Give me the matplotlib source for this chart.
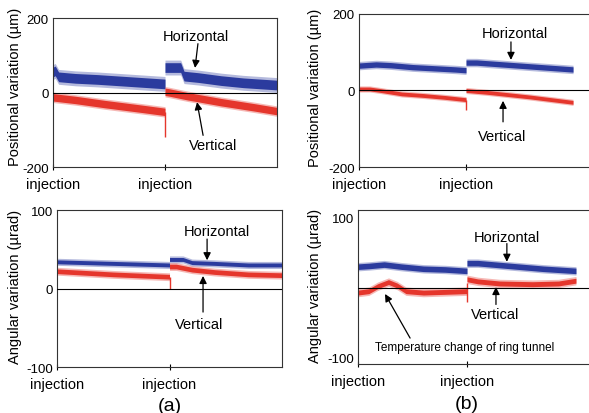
import matplotlib.pyplot as plt
import numpy as np

plt.rcParams['font.family'] = ['Liberation Sans', 'DejaVu Sans']

BLUE = '#2b3b9e'
RED = '#e5362c'
INJ = 50  # second injection

# (a) positional variation [um]; each trace split at the injection
a_pos_h_t1 = [0, 1, 2.5, 10, 20, 30, 40, 50]
a_pos_h_v1 = [55, 58, 42, 38, 35, 31, 27, 23]
a_pos_h_t2 = [50, 57, 58.5, 65, 75, 85, 100]
a_pos_h_v2 = [67, 67, 44, 40, 32, 26, 20]
a_pos_v_t1 = [0, 10, 23, 40, 50]
a_pos_v_v1 = [-13, -20, -31, -44, -52]
a_pos_v_t2 = [50, 52, 60, 75, 90, 100]
a_pos_v_v2 = [2, 0, -10, -26, -40, -50]
a_pos_spike = (-52, -120)

# (b) positional variation [um]
b_pos_h_t1 = [0, 8, 15, 25, 35, 45, 50]
b_pos_h_v1 = [65, 68, 66, 61, 58, 55, 53]
b_pos_h_t2 = [50, 55, 70, 85, 100]
b_pos_h_v2 = [73, 73, 67, 61, 55]
b_pos_v_t1 = [0, 5, 10, 20, 30, 40, 50]
b_pos_v_v1 = [4, 4, 0, -9, -13, -18, -24]
b_pos_v_t2 = [50, 60, 70, 80, 90, 100]
b_pos_v_v2 = [0, -5, -11, -17, -24, -31]
b_pos_spike = (-24, -52)

# (a) angular variation [urad]
a_ang_h_t1 = [0, 25, 50]
a_ang_h_v1 = [34, 32, 30]
a_ang_h_t2 = [50, 56, 60, 70, 85, 100]
a_ang_h_v2 = [37, 37, 33, 32, 30, 30]
a_ang_v_t1 = [0, 25, 50]
a_ang_v_v1 = [22, 18, 15]
a_ang_v_t2 = [50, 53, 60, 70, 85, 100]
a_ang_v_v2 = [28, 28, 24, 21, 18, 17]
a_ang_spike = (15, 0)

# (b) angular variation [urad]
b_ang_h_t1 = [0, 5, 12, 20, 30, 40, 50]
b_ang_h_v1 = [30, 31, 33, 30, 27, 26, 24]
b_ang_h_t2 = [50, 55, 70, 85, 100]
b_ang_h_v2 = [35, 35, 31, 27, 24]
b_ang_v_t1 = [0, 5, 9, 14, 18, 22, 30, 40, 50]
b_ang_v_v1 = [-7, -5, 2, 8, 3, -5, -7, -6, -5]
b_ang_v_t2 = [50, 55, 65, 80, 92, 100]
b_ang_v_v2 = [12, 9, 6, 5, 6, 10]
b_ang_spike = (7, -21)

# noise amplitude of each trace: (core, fuzz) half-widths
a_pos_noise = {'h': (13, 20), 'v': (10, 14)}
b_pos_noise = {'h': (7, 11), 'v': (5, 8)}
a_ang_noise = {'h': (2.5, 4.5), 'v': (3, 5)}
b_ang_noise = {'h': (4, 6), 'v': (3.5, 6)}


def band(ax, t, v, noise, color):
    t = np.asarray(t, float)
    v = np.asarray(v, float)
    core, fuzz = noise
    ax.fill_between(t, v - fuzz, v + fuzz, color=color, alpha=0.35, lw=0)
    ax.fill_between(t, v - core, v + core, color=color, lw=0)


def panel(rect, xlim, ylim, yticks, ylabel, label_xy, traces, spike, noise):
    ax = fig.add_axes(rect)
    (ht1, hv1, ht2, hv2), (vt1, vv1, vt2, vv2) = traces
    band(ax, ht1, hv1, noise['h'], BLUE)
    band(ax, ht2, hv2, noise['h'], BLUE)
    band(ax, vt1, vv1, noise['v'], RED)
    band(ax, vt2, vv2, noise['v'], RED)
    ax.vlines(INJ, *spike, color=RED, lw=1.0)
    ax.axhline(0, color='k', lw=0.8, zorder=3)
    ax.set_xlim(*xlim)
    ax.set_ylim(*ylim)
    ax.set_xticks([0, INJ], ['injection', 'injection'], fontsize=10.5)
    ax.set_yticks(yticks, [str(y) for y in yticks], fontsize=9.5)
    ax.tick_params(axis='x', direction='inout', length=5, width=0.8, pad=5)
    ax.tick_params(axis='y', length=0, pad=3)
    for s in ax.spines.values():
        s.set_linewidth(0.8)
        s.set_color('#333333')
    ax.set_ylabel(ylabel, fontsize=10.5)
    ax.yaxis.set_label_coords(*label_xy)
    return ax


def tag(ax, text, xy, tail, tip, size=10.5):
    ax.text(*xy, text, ha='center', va='center', fontsize=size)
    ax.annotate('', xy=tip, xytext=tail,
                arrowprops=dict(arrowstyle='-|>', color='k', lw=0.9,
                                mutation_scale=11, shrinkA=0, shrinkB=0))


fig = plt.figure(figsize=(5.89, 4.14), dpi=100)

ax1 = panel([0.0900, 0.5942, 0.3803, 0.3599], (0, 100), (-200, 200),
            [200, 0, -200], 'Positional variation (\u00b5m)', (-0.138, 0.547),
            ((a_pos_h_t1, a_pos_h_v1, a_pos_h_t2, a_pos_h_v2),
             (a_pos_v_t1, a_pos_v_v1, a_pos_v_t2, a_pos_v_v2)),
            a_pos_spike, a_pos_noise)
tag(ax1, 'Horizontal', (64, 153), (64.7, 131), (63.4, 66))
tag(ax1, 'Vertical', (71.4, -142), (67, -115), (64.3, -26))

ax2 = panel([0.6095, 0.5942, 0.3939, 0.3696], (0, 108.4), (-200, 200),
            [200, 0, -200], 'Positional variation (\u00b5m)', (-0.16, 0.526),
            ((b_pos_h_t1, b_pos_h_v1, b_pos_h_t2, b_pos_h_v2),
             (b_pos_v_t1, b_pos_v_v1, b_pos_v_t2, b_pos_v_v2)),
            b_pos_spike, b_pos_noise)
ax2.spines['right'].set_visible(False)
tag(ax2, 'Horizontal', (72.9, 150), (71, 127), (71, 80))
tag(ax2, 'Vertical', (66.8, -118), (67.3, -82), (67.3, -27))

ax3 = panel([0.0968, 0.1111, 0.3820, 0.3792], (0, 100), (-100, 100),
            [100, 0, -100], 'Angular variation (\u00b5rad)', (-0.156, 0.516),
            ((a_ang_h_t1, a_ang_h_v1, a_ang_h_t2, a_ang_h_v2),
             (a_ang_v_t1, a_ang_v_v1, a_ang_v_t2, a_ang_v_v2)),
            a_ang_spike, a_ang_noise)
tag(ax3, 'Horizontal', (71, 73), (66.7, 63), (66.7, 36))
tag(ax3, 'Vertical', (63, -45), (64.9, -30), (64.9, 16))

ax4 = panel([0.6078, 0.1184, 0.3956, 0.3720], (0, 106.9), (-109, 111),
            [100, -100], 'Angular variation (\u00b5rad)', (-0.155, 0.513),
            ((b_ang_h_t1, b_ang_h_v1, b_ang_h_t2, b_ang_h_v2),
             (b_ang_v_t1, b_ang_v_v1, b_ang_v_t2, b_ang_v_v2)),
            b_ang_spike, b_ang_noise)
ax4.spines['right'].set_visible(False)
tag(ax4, 'Horizontal', (68.3, 72), (68.3, 63), (68.3, 37))
tag(ax4, 'Vertical', (62.8, -38), (63.3, -24), (63.3, 1))
tag(ax4, 'Temperature change of ring tunnel', (49, -85), (23.9, -72),
    (12.4, -9), size=8.5)

fig.text(170 / 589, 0.019, '(a)', ha='center', va='center', fontsize=14)
fig.text(467 / 589, 0.022, '(b)', ha='center', va='center', fontsize=14)

fig.savefig('out.png', dpi=100)
